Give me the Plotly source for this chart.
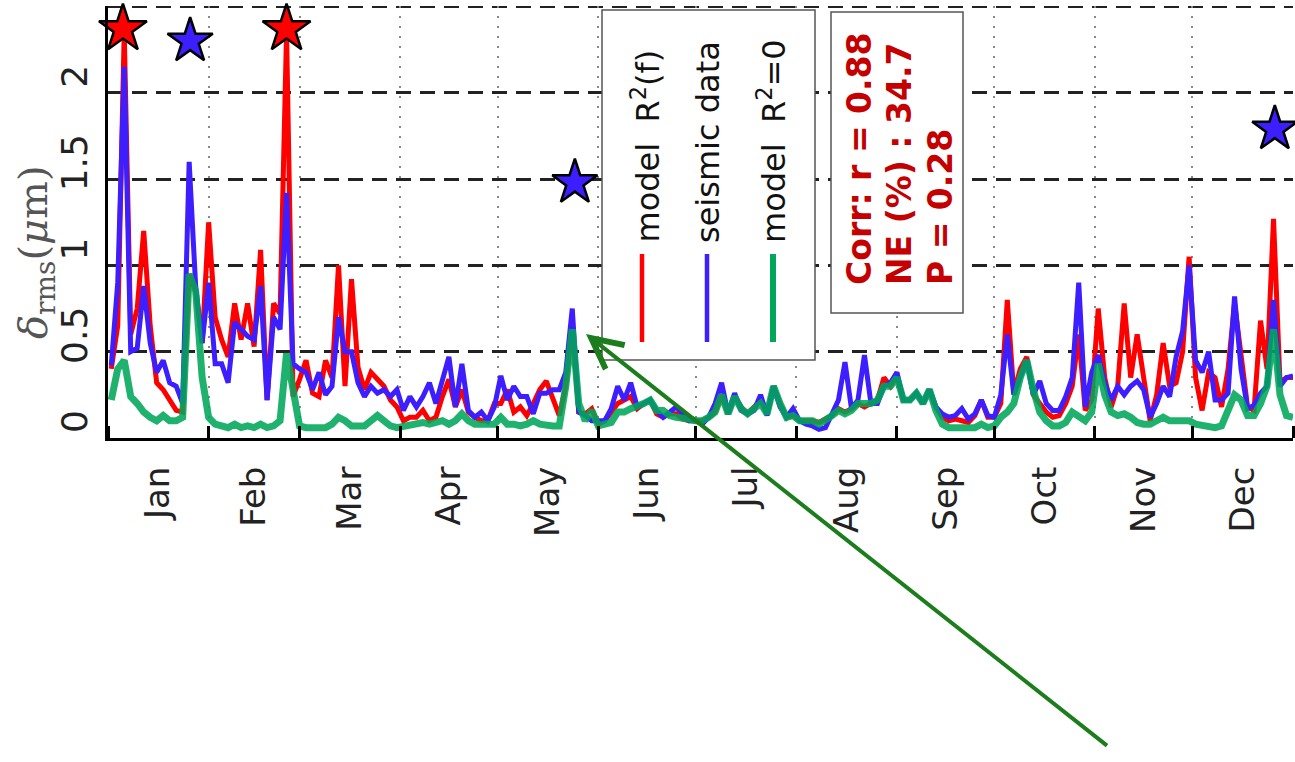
import plotly.graph_objects as go

# ---------------- data ----------------
days = list(range(1, 366, 2))  # sample days (day of year)

model_rf = [
    0.40, 0.65, 2.35, 0.60, 0.75, 1.20, 0.65, 0.32, 0.28, 0.22,
    0.16, 0.15, 0.95, 0.85, 0.55, 1.25, 0.70, 0.57, 0.47, 0.78,
    0.57, 0.78, 0.53, 1.09, 0.22, 0.78, 0.72, 2.35, 0.24, 0.34,
    0.45, 0.26, 0.24, 0.45, 0.35, 1.00, 0.30, 0.92, 0.41, 0.28,
    0.38, 0.34, 0.30, 0.22, 0.18, 0.10, 0.12, 0.12, 0.16, 0.10,
    0.12, 0.24, 0.34, 0.18, 0.28, 0.15, 0.12, 0.10, 0.10, 0.20,
    0.20, 0.28, 0.15, 0.18, 0.13, 0.20, 0.28, 0.33, 0.22, 0.13,
    0.30, 0.65, 0.15, 0.14, 0.17, 0.08, 0.10, 0.15, 0.20, 0.22,
    0.24, 0.17, 0.20, 0.22, 0.14, 0.12, 0.14, 0.14, 0.11, 0.10,
    0.10, 0.10, 0.12, 0.15, 0.25, 0.14, 0.24, 0.18, 0.14, 0.18,
    0.22, 0.14, 0.30, 0.20, 0.12, 0.13, 0.10, 0.10, 0.10, 0.09,
    0.11, 0.13, 0.17, 0.15, 0.17, 0.20, 0.18, 0.20, 0.22, 0.35,
    0.30, 0.36, 0.22, 0.22, 0.26, 0.20, 0.28, 0.18, 0.12, 0.10,
    0.11, 0.10, 0.09, 0.13, 0.22, 0.12, 0.12, 0.20, 0.80, 0.26,
    0.40, 0.47, 0.25, 0.20, 0.15, 0.12, 0.13, 0.20, 0.30, 0.60,
    0.16, 0.22, 0.75, 0.35, 0.18, 0.30, 0.78, 0.35, 0.60, 0.35,
    0.10, 0.25, 0.55, 0.30, 0.32, 0.50, 1.05, 0.35, 0.16, 0.38,
    0.35, 0.18, 0.40, 0.78, 0.50, 0.18, 0.16, 0.68, 0.40, 1.27,
    0.32, 0.35, 0.35,
]

seismic = [
    0.42, 0.90, 2.15, 0.50, 0.52, 0.88, 0.55, 0.38, 0.45, 0.32,
    0.30, 0.20, 1.60, 0.88, 0.55, 0.90, 0.43, 0.43, 0.32, 0.67,
    0.63, 0.59, 0.57, 0.88, 0.22, 0.70, 0.63, 1.42, 0.43, 0.40,
    0.38, 0.28, 0.38, 0.25, 0.30, 0.70, 0.50, 0.50, 0.32, 0.24,
    0.30, 0.26, 0.28, 0.24, 0.28, 0.16, 0.24, 0.18, 0.24, 0.32,
    0.20, 0.34, 0.47, 0.18, 0.43, 0.16, 0.12, 0.15, 0.10, 0.18,
    0.36, 0.22, 0.30, 0.24, 0.24, 0.14, 0.26, 0.26, 0.28, 0.28,
    0.38, 0.75, 0.15, 0.13, 0.10, 0.10, 0.10, 0.17, 0.30, 0.22,
    0.32, 0.18, 0.20, 0.22, 0.16, 0.12, 0.15, 0.18, 0.14, 0.10,
    0.10, 0.08, 0.12, 0.20, 0.32, 0.14, 0.26, 0.16, 0.14, 0.16,
    0.25, 0.13, 0.30, 0.18, 0.12, 0.17, 0.10, 0.08, 0.07, 0.05,
    0.06, 0.14, 0.22, 0.44, 0.17, 0.22, 0.48, 0.20, 0.20, 0.30,
    0.32, 0.38, 0.22, 0.22, 0.26, 0.20, 0.28, 0.18, 0.14, 0.12,
    0.13, 0.17, 0.11, 0.14, 0.22, 0.13, 0.12, 0.25, 0.60, 0.25,
    0.35, 0.45, 0.25, 0.33, 0.20, 0.16, 0.16, 0.24, 0.35, 0.90,
    0.18, 0.38, 0.48, 0.32, 0.22, 0.30, 0.25, 0.30, 0.33, 0.28,
    0.12, 0.20, 0.30, 0.24, 0.47, 0.62, 1.00, 0.45, 0.38, 0.50,
    0.22, 0.22, 0.26, 0.82, 0.40, 0.17, 0.19, 0.26, 0.30, 0.80,
    0.30, 0.35, 0.36,
]

model_r0 = [
    0.22, 0.40, 0.45, 0.24, 0.20, 0.15, 0.12, 0.10, 0.13, 0.10,
    0.10, 0.12, 0.95, 0.85, 0.35, 0.12, 0.08, 0.07, 0.06, 0.08,
    0.06, 0.07, 0.06, 0.08, 0.06, 0.07, 0.10, 0.49, 0.25, 0.07,
    0.06, 0.06, 0.06, 0.06, 0.08, 0.12, 0.10, 0.07, 0.07, 0.07,
    0.10, 0.13, 0.10, 0.07, 0.06, 0.07, 0.08, 0.08, 0.09, 0.08,
    0.09, 0.10, 0.08, 0.10, 0.14, 0.10, 0.08, 0.08, 0.07, 0.08,
    0.12, 0.08, 0.08, 0.07, 0.08, 0.10, 0.08, 0.07, 0.07, 0.07,
    0.30, 0.63, 0.20, 0.10, 0.16, 0.07, 0.08, 0.09, 0.15, 0.15,
    0.17, 0.18, 0.20, 0.22, 0.16, 0.16, 0.13, 0.12, 0.12, 0.11,
    0.10, 0.10, 0.12, 0.15, 0.25, 0.14, 0.24, 0.17, 0.14, 0.17,
    0.20, 0.14, 0.30, 0.20, 0.12, 0.13, 0.10, 0.10, 0.10, 0.08,
    0.10, 0.13, 0.16, 0.14, 0.16, 0.20, 0.20, 0.20, 0.22, 0.30,
    0.30, 0.35, 0.22, 0.22, 0.26, 0.20, 0.28, 0.16, 0.08, 0.06,
    0.06, 0.06, 0.05, 0.06, 0.08, 0.06, 0.07, 0.12, 0.15, 0.20,
    0.35, 0.45, 0.28, 0.15, 0.10, 0.07, 0.07, 0.09, 0.15, 0.12,
    0.10, 0.15, 0.43, 0.25, 0.15, 0.13, 0.14, 0.12, 0.09, 0.08,
    0.08, 0.10, 0.12, 0.10, 0.10, 0.10, 0.10, 0.08, 0.07, 0.06,
    0.06, 0.07, 0.15, 0.25, 0.22, 0.13, 0.13, 0.20, 0.30, 0.63,
    0.25, 0.13, 0.12,
]

red_star_day = [4.6, 55.0]
red_star_val = [2.37, 2.37]
blue_star_day = [25.3, 143.8, 359.4]
blue_star_val = [2.30, 1.48, 1.79]

months = ["Jan", "Feb", "Mar", "Apr", "May", "Jun",
          "Jul", "Aug", "Sep", "Oct", "Nov", "Dec"]
month_len = [31, 28, 31, 30, 31, 30, 31, 31, 30, 31, 30, 31]
y_ticks = [0, 0.5, 1, 1.5, 2, 2.5]
y_ticktext = ["0", "0.5", "1", "1.5", "2", " "]

legend_labels = ["model&nbsp; R<sup>2</sup>(f)", "seismic data", "model&nbsp; R<sup>2</sup>=0"]
stats_lines = ["Corr: r = 0.88", "NE (%) : 34.7", "P = 0.28"]

# ---------------- derived positions ----------------
bounds = [0]
for m in month_len:
    bounds.append(bounds[-1] + m)
mids = [(bounds[i] + bounds[i + 1]) / 2 for i in range(12)]

RED = "#ff0000"
BLUE = "#3d1eff"
GREEN = "rgba(0,166,90,0.88)"
GREEN_SOLID = "#00a65a"

fig = go.Figure()
fig.add_trace(go.Scatter(x=days, y=model_rf, mode="lines",
                         line=dict(color=RED, width=5)))
fig.add_trace(go.Scatter(x=days, y=seismic, mode="lines",
                         line=dict(color=BLUE, width=5)))
fig.add_trace(go.Scatter(x=days, y=model_r0, mode="lines",
                         line=dict(color=GREEN, width=7)))
fig.add_trace(go.Scatter(x=red_star_day, y=red_star_val, mode="markers",
                         marker=dict(symbol="star", size=36, color=RED,
                                     line=dict(color="black", width=2.5)),
                         cliponaxis=False))
fig.add_trace(go.Scatter(x=blue_star_day, y=blue_star_val, mode="markers",
                         marker=dict(symbol="star", size=34, color=BLUE,
                                     line=dict(color="black", width=2.5)),
                         cliponaxis=False))

W, H = 1295, 762
L, R, T, B = 108, 2, 6, 324
PW, PH = W - L - R, H - T - B


def px(x):
    return (x - L) / PW


def py(y):
    return (H - B - y) / PH


shapes = []
annotations = []

# top dashed gridline (at the top of the y range)
shapes.append(dict(type="line", xref="paper", yref="y", x0=0, x1=1,
                   y0=y_ticks[-1], y1=y_ticks[-1],
                   line=dict(color="#222", width=3, dash="15px,9px"), layer="below"))

# legend box (rotated legend)
shapes.append(dict(type="rect", xref="paper", yref="paper",
                   x0=px(602), x1=px(815), y0=py(360), y1=py(10),
                   fillcolor="white", line=dict(color="#555", width=1.5), layer="above"))
leg_cols = [RED, BLUE, GREEN_SOLID]
leg_line_x = [642, 707, 773]
leg_text_x = [646, 708, 772]
for i in range(3):
    shapes.append(dict(type="line", xref="paper", yref="paper",
                       x0=px(leg_line_x[i]), x1=px(leg_line_x[i]),
                       y0=py(342), y1=py(254),
                       line=dict(color=leg_cols[i], width=4.5 if i < 2 else 6),
                       layer="above"))
    annotations.append(dict(xref="paper", yref="paper", x=px(leg_text_x[i]), y=py(245),
                            xanchor="center", yanchor="bottom", textangle=-90,
                            text=legend_labels[i], showarrow=False,
                            font=dict(family="DejaVu Sans", size=32, color="#111")))

# stats box
shapes.append(dict(type="rect", xref="paper", yref="paper",
                   x0=px(831), x1=px(963), y0=py(313), y1=py(12),
                   fillcolor="white", line=dict(color="#555", width=1.5), layer="above"))
stat_x = [859, 899, 940]
for i in range(3):
    annotations.append(dict(xref="paper", yref="paper", x=px(stat_x[i]), y=py(287),
                            xanchor="center", yanchor="bottom", textangle=-90,
                            text="<b>" + stats_lines[i] + "</b>", showarrow=False,
                            font=dict(family="DejaVu Sans", size=33, color="#c40000")))

# y-axis title
annotations.append(dict(xref="paper", yref="paper", x=px(36), y=py(252),
                        xanchor="center", yanchor="middle", textangle=-90,
                        text="<i>δ</i><sub>rms</sub>(<i>μ</i>m)", showarrow=False,
                        font=dict(family="DejaVu Serif", size=40, color="#555")))

# green arrow
annotations.append(dict(xref="paper", yref="paper", x=px(586), y=py(334),
                        ax=1110 - 586, ay=748 - 334, axref="pixel", ayref="pixel",
                        text=" ", showarrow=True, arrowhead=5, arrowsize=1.5,
                        arrowwidth=4, arrowcolor="#1c7d1c", standoff=0))

fig.update_layout(
    width=W, height=H,
    margin=dict(l=L, r=R, t=T, b=B),
    paper_bgcolor="white", plot_bgcolor="white",
    showlegend=False,
    shapes=shapes, annotations=annotations,
    xaxis=dict(range=[0, 365], tickmode="array", tickvals=mids, ticktext=months,
               tickangle=-90, ticks="", showgrid=False, zeroline=False,
               showline=True, linecolor="black", linewidth=3,
               tickfont=dict(family="DejaVu Sans", size=34, color="#222"),
               ticklabelstandoff=12,
               minor=dict(tickmode="array", tickvals=bounds, ticks="inside",
                          ticklen=12, tickwidth=3, tickcolor="black",
                          showgrid=True, gridcolor="#888", griddash="2px,8px",
                          gridwidth=2)),
    yaxis=dict(range=[0, 2.503], tickmode="array", tickvals=y_ticks, ticktext=y_ticktext,
               tickangle=-90, ticks="", showgrid=True, gridcolor="#222",
               griddash="15px,9px", gridwidth=3, zeroline=False,
               showline=True, linecolor="black", linewidth=3,
               tickfont=dict(family="DejaVu Sans", size=36, color="#222"),
               ticklabelstandoff=4, ticklabelshift=-11),
)

fig.write_html("out.html")
